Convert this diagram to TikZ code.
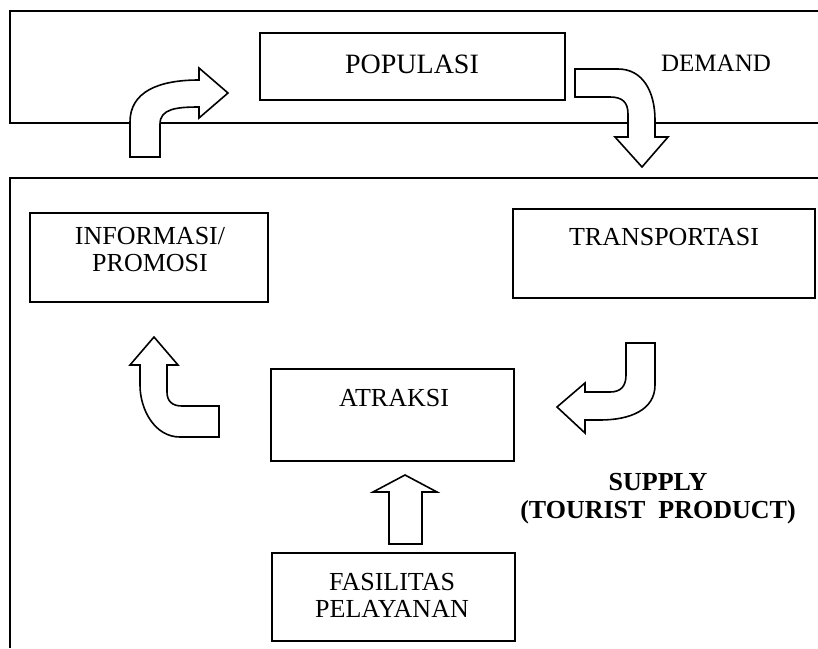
\documentclass[tikz,border=0pt]{standalone}
\usepackage{fontspec}
\setmainfont{Liberation Serif}
\begin{document}
\begin{tikzpicture}[x=1pt,y=-1pt,
  frame/.style={line width=1.8pt},
  box/.style={draw, line width=1.6pt, inner sep=0pt},
  lbl/.style={font=\fontsize{26}{27}\selectfont, align=center, inner sep=0pt},
  blk/.style={draw, line width=1.6pt, fill=white, line join=miter}]
\useasboundingbox (0,0) rectangle (818,648);
% frames
\draw[frame] (818,11) -- (10,11) -- (10,123) -- (818,123);
\draw[frame] (818,178) -- (10,178) -- (10,648);
% boxes
\node[box, minimum width=305pt, minimum height=67pt] (pop) at (412.5,66.5) {};
\node[lbl, font=\fontsize{28}{29}\selectfont] (popt) at (412,64) {POPULASI};
\node[lbl, font=\fontsize{25}{26}\selectfont] (dem) at (716,63) {DEMAND};
\node[box, minimum width=238pt, minimum height=89pt] (inf) at (149,257.5) {};
\node[lbl] (inft) at (150,250) {INFORMASI/\\PROMOSI};
\node[box, minimum width=302pt, minimum height=89pt] (tra) at (664,253.5) {};
\node[lbl] (trat) at (664,237) {TRANSPORTASI};
\node[box, minimum width=243pt, minimum height=92pt] (atr) at (392.5,415) {};
\node[lbl] (atrt) at (394,398) {ATRAKSI};
\node[box, minimum width=243pt, minimum height=88pt] (fas) at (393.5,597) {};
\node[lbl] (fast) at (392,595) {FASILITAS\\PELAYANAN};
\node[lbl, font=\fontsize{26}{28}\selectfont\bfseries] (sup) at (658,499) {SUPPLY\\(TOURIST~~PRODUCT)};
% block arrows
\draw[blk] (130,157) -- (130,122) .. controls (130,92) and (158,80) .. (199,80)
  -- (199,68) -- (228,93) -- (199,118) -- (199,107)
  .. controls (176,107) and (160,109) .. (160,124) -- (160,157) -- cycle;
\draw[blk] (575,69) -- (618,69) .. controls (643,69) and (655,92) .. (655,120)
  -- (655,137) -- (668,137) -- (642,167) -- (615,137) -- (628,137) -- (628,114)
  .. controls (628,102) and (622,97) .. (610,97) -- (575,97) -- cycle;
\draw[blk] (626,343) -- (655,343) -- (655,385) .. controls (655,410) and (630,420) .. (600,420)
  -- (585,420) -- (585,433) -- (557,407) -- (585,383) -- (585,392) -- (610,392)
  .. controls (621,392) and (626,386) .. (626,375) -- cycle;
\draw[blk] (219,406) -- (219,437) -- (180,437) .. controls (155,437) and (140,410) .. (140,385)
  -- (140,365) -- (130,365) -- (154,337) -- (178,365) -- (167,365) -- (167,392)
  .. controls (167,401) and (172,406) .. (182,406) -- cycle;
\draw[blk] (389,544) -- (389,492) -- (373,492) -- (405,475) -- (437,492) -- (422,492) -- (422,544) -- cycle;
\end{tikzpicture}
\end{document}
